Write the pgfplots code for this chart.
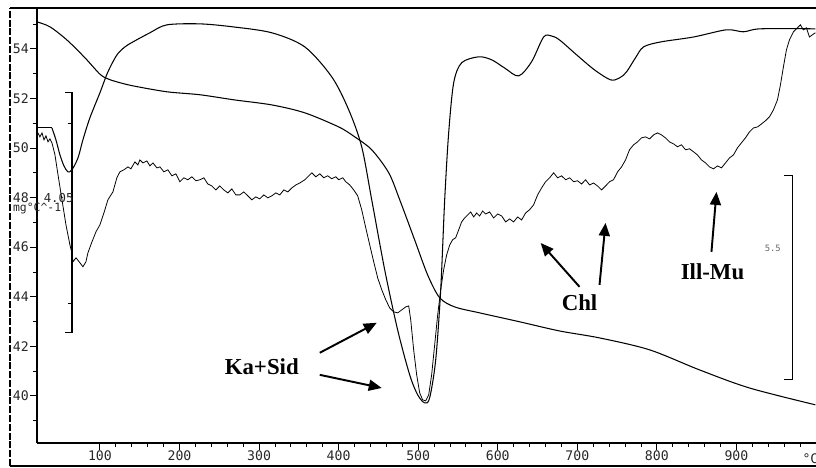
\documentclass[border=0pt]{standalone}
\usepackage{fontspec}
\setmainfont{Liberation Serif}
\newfontfamily\tickfont{DejaVu Sans Mono}
\usepackage{pgfplots}
\pgfplotsset{compat=1.18}
\usetikzlibrary{arrows.meta}

\begin{document}
\begin{tikzpicture}
\path[use as bounding box] (-0.74,-0.50) rectangle (15.58,8.86);
% scanned page frame
\draw[line width=0.6pt, dash pattern=on 4pt off 1pt] (-0.54,-0.46) -- (-0.54,8.70);
\draw[line width=0.8pt] (-0.54,8.70) -- (15.58,8.70);
\draw[line width=1.3pt] (-0.54,-0.46) -- (15.58,-0.46);
\begin{axis}[
  scale only axis,
  width=15.58cm, height=8.68cm,
  xmin=20.9, xmax=1000, ymin=38.1, ymax=55.61,
  axis x line*=bottom, axis y line*=left,
  axis line style={line width=0.6pt, -},
  xtick={100,200,...,900},
  minor x tick num=4,
  extra x ticks={920,940,960,980},
  extra x tick labels={},
  extra x tick style={tick style={line width=0.4pt}, major tick length=0.08cm},
  ytick={40,42,...,54},
  minor ytick={39,41,...,55},
  tick align=outside,
  major tick length=0.14cm, minor tick length=0.08cm,
  tick style={black, line width=0.5pt},
  tick label style={font=\tickfont\fontsize{7.5}{7.5}\selectfont, text=black!85},
  yticklabel style={xshift=0.1cm},
  xticklabel style={yshift=0.1cm},
  /pgf/number format/assume math mode=true,
  clip=false,
]
% TG curve
\addplot[black, line width=0.6pt, smooth] coordinates {
(20.9,55.09) (37.2,54.89) (58.5,54.36) (81.2,53.64) (100.0,52.98) (110.0,52.79)
(121.3,52.67) (141.4,52.51) (184.1,52.27) (225.6,52.15) (269.5,51.94) (316.0,51.74)
(357.5,51.42) (400.2,50.85) (420.3,50.45) (441.6,49.93) (463.0,49.00) (476.8,47.91)
(495.6,46.29) (511.9,44.88) (527.0,43.96) (545.9,43.59) (577.2,43.35) (627.5,42.99)
(677.7,42.62) (727.9,42.34) (790.7,41.86) (853.5,41.05) (916.3,40.32) (999.2,39.64)};
% DTA curve
\addplot[black, line width=0.6pt] coordinates {
(20.9,50.81) (30.9,50.81) (39.7,50.81)};
\addplot[black, line width=0.6pt, smooth] coordinates {
(39.7,50.81) (44.7,50.33) (49.8,49.72) (54.8,49.28) (59.8,49.04) (64.8,49.12)
(72.4,49.60) (78.6,50.33) (87.4,51.22) (100.0,52.23) (110.0,53.07) (121.4,53.76)
(131.4,54.08) (141.4,54.28) (162.8,54.65) (184.1,54.97) (225.6,55.01) (267.0,54.89)
(316.0,54.65) (357.5,54.08) (391.4,52.87) (412.7,51.54) (429.0,50.05) (441.6,47.91)
(457.9,45.09) (474.2,42.66) (489.3,40.85) (499.4,40.04) (508.2,39.72) (514.4,39.92)
(522.0,41.45) (528.3,44.28) (533.3,47.91) (538.3,50.61) (544.6,52.63) (554.6,53.44)
(576.0,53.68) (592.3,53.56) (608.6,53.23) (626.2,52.91) (642.5,53.48) (657.6,54.48)
(667.7,54.52) (677.7,54.36) (699.1,53.76) (721.7,53.15) (741.8,52.75) (753.1,52.83)
(761.8,53.07) (773.1,53.64) (783.2,54.08) (804.6,54.28) (846.0,54.48) (887.4,54.77)
(908.8,54.69) (930.1,54.81) (999.2,54.81)};
% DTG curve
\addplot[black, line width=0.45pt] coordinates {
(22.1,50.61) (24.6,50.45) (27.2,50.61) (29.7,50.33) (32.2,50.49) (34.7,50.25)
(37.2,50.37) (39.7,50.21) (43.5,49.72) (47.3,48.92) (52.3,47.91) (57.3,46.90)
(62.3,46.09) (64.8,45.77) (66.1,45.41) (69.9,45.57) (74.9,45.37) (78.6,45.21)
(82.4,45.41) (84.9,45.77) (89.9,46.21) (95.0,46.62) (100.0,46.90) (105.0,47.38)
(110.0,47.91) (116.3,48.23) (121.3,48.80) (125.1,49.04) (130.1,49.12) (135.2,49.24)
(138.9,49.16) (143.9,49.44) (147.7,49.32) (150.2,49.52) (154.0,49.40) (159.0,49.48)
(162.8,49.28) (166.6,49.40) (171.6,49.20) (175.4,49.24) (180.4,49.04) (185.4,49.12)
(190.4,48.88) (195.4,48.96) (200.5,48.64) (205.5,48.80) (210.5,48.72) (215.5,48.84)
(220.6,48.68) (225.6,48.72) (230.6,48.80) (235.6,48.55) (240.7,48.47) (245.7,48.31)
(250.7,48.47) (255.7,48.31) (260.8,48.19) (265.8,48.35) (270.8,48.11) (275.8,48.11)
(280.8,48.23) (285.9,48.07) (290.9,47.91) (295.9,48.03) (300.9,47.95) (306.0,48.11)
(311.0,47.99) (316.0,48.07) (321.0,48.19) (326.1,48.11) (331.1,48.31) (336.1,48.23)
(341.1,48.39) (346.2,48.51) (351.2,48.59) (357.5,48.72) (362.5,48.88) (366.3,49.00)
(371.3,48.84) (376.3,48.96) (381.3,48.80) (386.3,48.88) (391.4,48.76) (396.4,48.84)
(400.2,48.72) (405.2,48.80) (409.0,48.64) (414.0,48.51) (419.0,48.31) (424.0,48.07)
(429.0,47.51) (434.1,46.78) (439.1,46.09) (444.1,45.41) (449.1,44.76) (454.2,44.28)
(459.2,43.88) (464.2,43.55) (469.2,43.39) (474.3,43.35) (479.3,43.47) (484.3,43.59)
(488.1,43.63) (490.6,43.07) (494.3,41.86) (498.1,40.85) (501.9,40.12) (505.6,39.84)
(509.4,39.80) (513.2,40.04) (516.9,40.85) (520.7,42.06) (524.5,43.27) (528.3,44.28)
(532.0,45.09) (535.8,45.69) (539.6,46.09) (543.3,46.30) (547.1,46.38) (550.9,46.70)
(554.6,47.02) (558.4,47.18) (562.2,47.30) (566.0,47.42) (569.7,47.22) (573.5,47.38)
(577.2,47.26) (581.0,47.46) (584.8,47.34) (589.8,47.42) (594.8,47.18) (599.8,47.34)
(604.9,47.26) (609.9,47.02) (614.9,47.14) (619.9,47.02) (625.0,47.22) (630.0,47.10)
(635.0,47.38) (640.0,47.51) (645.1,47.71) (650.1,48.11) (655.1,48.39) (660.1,48.64)
(665.2,48.80) (670.2,49.00) (675.2,48.80) (680.2,48.88) (685.3,48.72) (690.3,48.80)
(695.3,48.64) (700.3,48.68) (705.3,48.55) (710.4,48.72) (715.4,48.51) (720.4,48.59)
(725.4,48.47) (730.5,48.31) (735.5,48.47) (740.5,48.64) (745.5,48.72) (750.6,49.04)
(755.6,49.24) (760.6,49.52) (765.6,49.93) (770.7,50.13) (775.7,50.25) (780.7,50.41)
(785.7,50.45) (790.8,50.37) (795.8,50.53) (800.8,50.61) (805.8,50.53) (810.8,50.41)
(815.9,50.25) (820.9,50.17) (825.9,50.05) (830.9,50.13) (836.0,49.93) (841.0,49.97)
(846.0,49.85) (851.0,49.72) (856.1,49.52) (861.1,49.40) (866.1,49.24) (871.1,49.16)
(876.2,49.28) (881.2,49.20) (886.2,49.40) (891.2,49.60) (896.2,49.72) (901.3,50.01)
(906.3,50.21) (911.3,50.41) (916.3,50.65) (921.4,50.81) (926.4,50.85) (931.4,50.97)
(936.4,51.10) (941.5,51.26) (946.5,51.54) (951.5,51.94) (955.3,52.55) (959.0,53.27)
(962.8,53.96) (966.6,54.36) (971.6,54.69) (976.6,54.85) (980.4,54.97) (984.1,54.77)
(987.9,54.85) (991.7,54.48) (995.5,54.57) (999.2,54.65)};

% scale bars
\draw[line width=0.7pt] (axis cs:56,52.23) -- (axis cs:64.8,52.23) -- (axis cs:64.8,42.55) -- (axis cs:56,42.55);
\draw[line width=0.5pt] (axis cs:59.8,51.01) -- (axis cs:64.8,51.01);
\draw[line width=0.5pt] (axis cs:59.8,43.75) -- (axis cs:64.8,43.75);
\draw[line width=0.6pt] (axis cs:960.3,48.88) -- (axis cs:970.3,48.88) -- (axis cs:970.3,40.65) -- (axis cs:960.3,40.65);
\node[font=\tickfont\fontsize{5}{5}\selectfont, text=black!60] at (axis cs:945.6,45.97) {5.5};

% scale text on the left
\node[font=\tickfont\fontsize{7}{7}\selectfont, text=black!85, anchor=west, inner sep=0pt] at (axis cs:29,48.0) {4.05};
\node[font=\tickfont\fontsize{6.5}{6.5}\selectfont, text=black!85, inner sep=0pt] at (axis cs:21,47.55) {mg°C\textasciicircum-1};
\node[font=\tickfont\fontsize{7.5}{7.5}\selectfont, text=black!85, anchor=north] at (axis cs:993,37.9) {°C};

% annotations
\tikzset{ann/.style={line width=1.1pt, -{Triangle[length=2.6mm,width=2.2mm]}}}
\draw[ann] (axis cs:376.3,41.74) -- (axis cs:447.9,42.95);
\draw[ann] (axis cs:376.3,40.85) -- (axis cs:454.2,40.32);
\node[font=\bfseries\fontsize{13}{13}\selectfont] at (axis cs:303.4,41.17) {Ka+Sid};
\draw[ann] (axis cs:702.8,44.40) -- (axis cs:653.9,46.17);
\draw[ann] (axis cs:727.9,44.48) -- (axis cs:735.5,46.98);
\node[font=\bfseries\fontsize{13}{13}\selectfont] at (axis cs:702.8,43.75) {Chl};
\draw[ann] (axis cs:868.6,45.81) -- (axis cs:874.9,48.23);
\node[font=\bfseries\fontsize{13}{13}\selectfont] at (axis cs:869.9,45.01) {Ill-Mu};
\end{axis}
\end{tikzpicture}
\end{document}
